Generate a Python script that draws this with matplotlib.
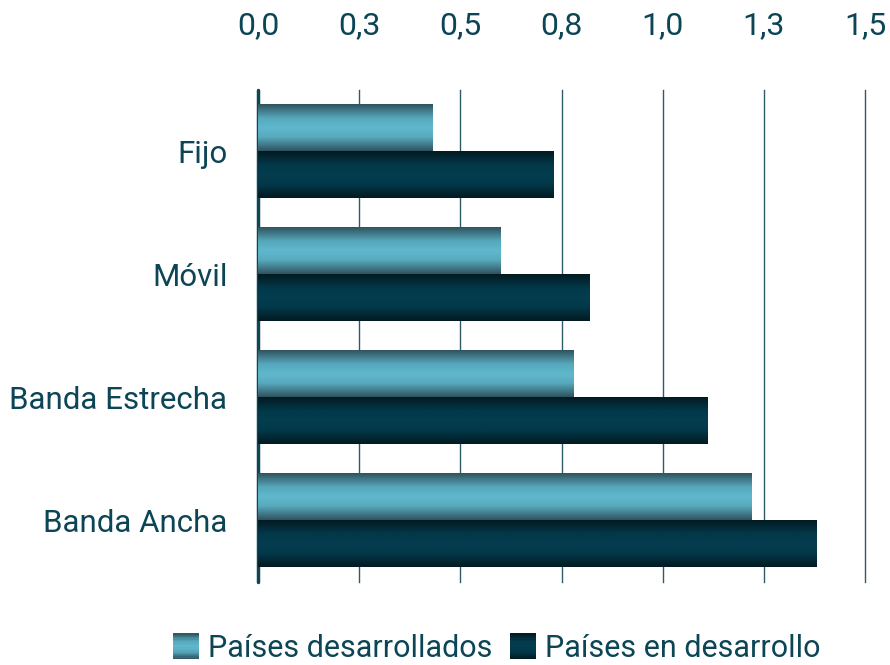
import matplotlib
matplotlib.use("Agg")
import matplotlib.pyplot as plt
import numpy as np
from matplotlib.colors import LinearSegmentedColormap
from matplotlib.legend_handler import HandlerBase
from matplotlib.patches import Rectangle, Patch

categories = ["Fijo", "Móvil", "Banda Estrecha", "Banda Ancha"]
desarrollados = [0.43, 0.60, 0.78, 1.22]
en_desarrollo = [0.73, 0.82, 1.11, 1.38]
series_names = ["Países desarrollados", "Países en desarrollo"]
tick_values = [0.0, 0.25, 0.5, 0.75, 1.0, 1.25, 1.5]
tick_labels = ["0,0", "0,3", "0,5", "0,8", "1,0", "1,3", "1,5"]

FONT = ["Roboto", "DejaVu Sans"]
plt.rcParams['font.family'] = FONT
TXT = "#0b4556"

cmap_light = LinearSegmentedColormap.from_list(
    "light", [(0, "#2f535e"), (0.3, "#56a8bc"), (0.5, "#60b8cc"), (0.7, "#58aabe"), (1, "#2f535e")])
cmap_dark = LinearSegmentedColormap.from_list(
    "dark", [(0, "#021a22"), (0.3, "#03394a"), (0.5, "#033d4f"), (0.7, "#03394a"), (1, "#021a22")])

fig = plt.figure(figsize=(8.9, 6.65), dpi=100)
ax = fig.add_axes([258/890, 1-582/665, (865-258)/890, (582-90)/665])

y = np.arange(len(categories))
h = 0.38
b1 = ax.barh(y - h/2, desarrollados, height=h, color="none", zorder=3)
b2 = ax.barh(y + h/2, en_desarrollo, height=h, color="none", zorder=3)

grad = np.linspace(0, 1, 256).reshape(-1, 1)
for bars, cm in ((b1, cmap_light), (b2, cmap_dark)):
    for p in bars:
        x0, y0, w, hh = p.get_x(), p.get_y(), p.get_width(), p.get_height()
        ax.imshow(grad, cmap=cm, aspect="auto", extent=(x0, x0 + w, y0 + hh, y0),
                  zorder=3, interpolation="bilinear")

ax.set_xlim(0, 1.5)
ax.set_ylim(len(categories) - 0.5, -0.5)
ax.set_yticks(y)
ax.set_yticklabels(categories, fontsize=22.5, color=TXT)
ax.xaxis.tick_top()
ax.set_xticks(tick_values)
ax.set_xticklabels(tick_labels, fontsize=23, color=TXT)
ax.tick_params(axis="x", length=0, pad=36)
ax.tick_params(axis="y", length=0, pad=22)
for s in ("top", "right", "bottom"):
    ax.spines[s].set_visible(False)
ax.spines["left"].set_color("#0d4656")
ax.spines["left"].set_linewidth(2.5)
ax.spines["left"].set_capstyle("round")
for v in tick_values[1:]:
    ax.axvline(v, color="#2e5b68", lw=1.0, zorder=1, clip_on=False)


class GradHandler(HandlerBase):
    def __init__(self, cm):
        super().__init__()
        self.cm = cm

    def create_artists(self, legend, orig_handle, xdescent, ydescent, width, height, fontsize, trans):
        n = 20
        arts = []
        side = height
        x0 = -xdescent + (width - side) / 2
        for i in range(n):
            c = self.cm(1 - (i + 0.5) / n)
            r = Rectangle((x0, -ydescent + side * i / n), side, side / n + 0.3,
                          facecolor=c, edgecolor="none", transform=trans)
            arts.append(r)
        return arts


hl = Patch()
hd = Patch(facecolor="k")
leg = fig.legend([hl, hd], series_names, loc="center", bbox_to_anchor=(496/890, 1-648/665),
                 ncol=2, frameon=False, fontsize=22, labelcolor=TXT,
                 handler_map={hl: GradHandler(cmap_light), hd: GradHandler(cmap_dark)},
                 handlelength=0.92, handleheight=0.92, handletextpad=0.25, columnspacing=0.55)

fig.savefig("out.png", dpi=100)
